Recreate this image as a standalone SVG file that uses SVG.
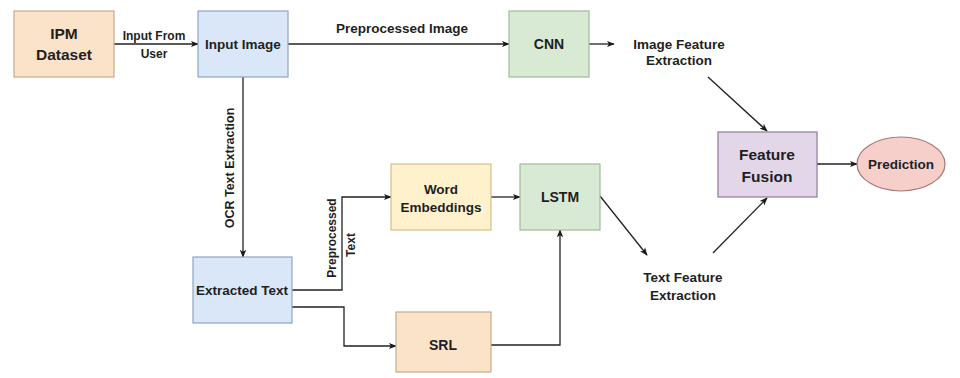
<svg xmlns="http://www.w3.org/2000/svg" width="960" height="378" viewBox="0 0 960 378">
<defs>
<marker id="ah" viewBox="0 0 10 10" refX="9" refY="5" markerWidth="8" markerHeight="8" markerUnits="userSpaceOnUse" orient="auto">
<path d="M0,1 L10,5 L0,9 L2.5,5 Z" fill="#1a1a1a"/>
</marker>
</defs>
<style>
text{font-family:"Liberation Sans",Arial,sans-serif;font-weight:bold;fill:#1f1f1f;text-anchor:middle;dominant-baseline:central}
.box{stroke-width:1.2}
.peach{fill:#fbe3c9;stroke:#c9ab8a}
.blue{fill:#d9e7f9;stroke:#8ea6c4}
.green{fill:#d8ead3;stroke:#9fbd97}
.yellow{fill:#fff1cb;stroke:#d4c08c}
.purple{fill:#e2d6e8;stroke:#8f7a9c}
.pink{fill:#f6cfcb;stroke:#a87a75}
.c{fill:none;stroke:#222;stroke-width:1.3;marker-end:url(#ah)}
.l{fill:none;stroke:#222;stroke-width:1.3}
.lbl{font-size:12px}
</style>
<rect width="960" height="378" fill="#ffffff"/>

<g id="connectors">
<path class="c" d="M114,44 H198"/>
<path class="c" d="M288,44 H509"/>
<path class="c" d="M589,44 H614"/>
<path class="c" d="M243,77 V257"/>
<path class="c" d="M708,77 L767,131"/>
<path class="c" d="M817,164 H857"/>
<path class="c" d="M292,290 H342 V197 H391"/>
<path class="c" d="M292,307 H344 V346 H396"/>
<path class="c" d="M491,197 H520"/>
<path class="c" d="M491,345 H560 V230"/>
<path class="c" d="M600,196 L647,255"/>
<path class="c" d="M713,253 L767,198"/>
<text class="lbl" x="154" y="36">Input From</text>
<text class="lbl" x="154" y="54">User</text>
<text x="402" y="28" font-size="13.5">Preprocessed Image</text>
<text x="230" y="168" font-size="12.5" transform="rotate(-90 230 168)">OCR Text Extraction</text>
<text x="332" y="238" font-size="12" transform="rotate(-90 332 238)">Preprocessed</text>
<text x="351" y="245" font-size="12" transform="rotate(-90 351 245)">Text</text>
<text x="679" y="44" font-size="13.5">Image Feature</text>
<text x="679" y="60" font-size="13.5">Extraction</text>
<text x="683" y="277" font-size="13.5">Text Feature</text>
<text x="683" y="295" font-size="13.5">Extraction</text>
</g>

<g id="ipm-dataset">
<rect class="box peach" x="14" y="11" width="100" height="66"/>
<text x="64" y="33" font-size="15.5">IPM</text>
<text x="64" y="54" font-size="15.5">Dataset</text>
</g>
<g id="input-image">
<rect class="box blue" x="198" y="11" width="90" height="66"/>
<text x="243" y="44" font-size="13.5">Input Image</text>
</g>
<g id="cnn">
<rect class="box green" x="509" y="11" width="80" height="66"/>
<text x="549" y="44" font-size="14">CNN</text>
</g>
<g id="feature-fusion">
<rect class="box purple" x="718" y="132" width="99" height="65"/>
<text x="767" y="154" font-size="15.5">Feature</text>
<text x="767" y="176" font-size="15.5">Fusion</text>
</g>
<g id="prediction">
<ellipse class="box pink" cx="901" cy="164" rx="44" ry="27"/>
<text x="901" y="164" font-size="13.5">Prediction</text>
</g>
<g id="extracted-text">
<rect class="box blue" x="193" y="257" width="99" height="66"/>
<text x="242" y="290" font-size="13.5">Extracted Text</text>
</g>
<g id="word-embeddings">
<rect class="box yellow" x="391" y="164" width="100" height="66"/>
<text x="441" y="189" font-size="13.5">Word</text>
<text x="441" y="207" font-size="13.5">Embeddings</text>
</g>
<g id="lstm">
<rect class="box green" x="520" y="164" width="80" height="66"/>
<text x="560" y="197" font-size="14">LSTM</text>
</g>
<g id="srl">
<rect class="box peach" x="396" y="312" width="95" height="60"/>
<text x="443" y="345" font-size="14">SRL</text>
</g>
</svg>
